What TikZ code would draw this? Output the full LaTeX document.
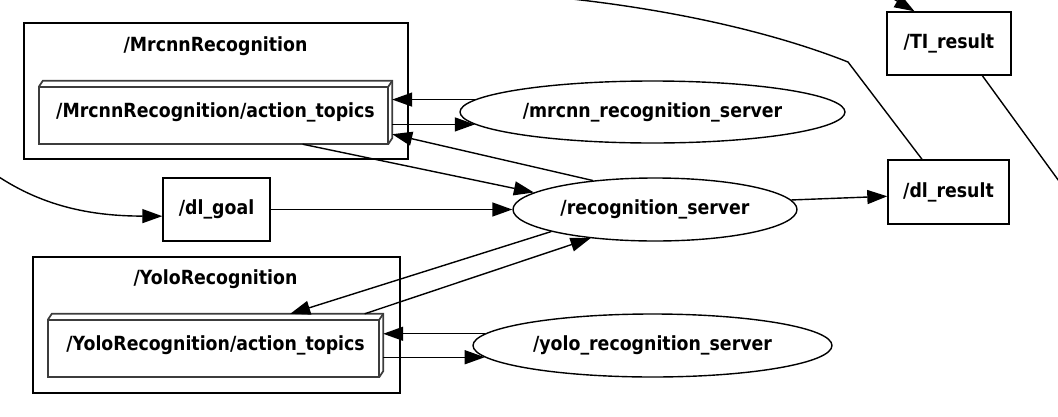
\documentclass[tikz,border=0pt]{standalone}
\usepackage{fontspec}
\usepackage{xcolor}
\usepackage{tikz}
\usetikzlibrary{arrows.meta,positioning,shapes.geometric,calc}
\newfontfamily\rosfont{DejaVu Sans}[FakeStretch=0.89]
\definecolor{topicedge}{RGB}{60,60,60}

\tikzset{
  roslabel/.style={font=\rosfont\bfseries\fontsize{19.5}{22}\selectfont, inner sep=0pt},
  groupbox/.style={draw=black, line width=1.4pt, inner sep=0pt},
  topicbox/.style={roslabel, inner sep=0pt},
  box3d/.style={draw=topicedge, line width=1.7pt, line join=miter},
  topicnode/.style={roslabel, draw=black, line width=1.4pt},
  srvnode/.style={roslabel, ellipse, draw=black, line width=1.4pt},
  edge/.style={-{Triangle[length=20pt,width=14pt]}, line width=1.4pt},
  cutedge/.style={line width=1.4pt}
}

\begin{document}
\begin{tikzpicture}[x=1pt, y=-1pt]
  \useasboundingbox (0,0) rectangle (1058,416);
  \clip (0,0) rectangle (1058,416);

  % namespaces
  \node[groupbox, minimum width=384pt, minimum height=136pt] (mgroup) at (216,91) {};
  \node[roslabel] (mtitle) at (215.5,46) {/MrcnnRecognition};
  \node[groupbox, minimum width=367pt, minimum height=136pt] (ygroup) at (216.5,325) {};
  \node[roslabel] (ytitle) at (215.5,279) {/YoloRecognition};

  % action topics
  \node[topicbox, minimum width=353pt, minimum height=63pt] (mtopic) at (215.5,112.5)
    {/MrcnnRecognition/action\_topics};
  \node[topicbox, minimum width=335pt, minimum height=63pt] (ytopic) at (215.5,345.5)
    {/YoloRecognition/action\_topics};
  \foreach \t in {mtopic,ytopic} {
    \draw[box3d] (\t.south west) rectangle ($(\t.north east)+(-4,6)$);
    \draw[box3d] ($(\t.north west)+(0,6)$) -- ($(\t.north west)+(4,0)$) -- (\t.north east)
      -- ($(\t.south east)+(0,-6)$) -- ($(\t.south east)+(-4,0)$);
    \draw[box3d] (\t.north east) -- ($(\t.north east)+(-4,6)$);
  }

  % servers
  \node[srvnode, minimum width=385pt, minimum height=62pt] (mserver) at (652.5,112) {/mrcnn\_recognition\_server};
  \node[srvnode, minimum width=284pt, minimum height=63pt] (rserver) at (655,209.5) {/recognition\_server};
  \node[srvnode, minimum width=359pt, minimum height=63pt] (yserver) at (652.5,345.5) {/yolo\_recognition\_server};

  % topics
  \node[topicnode, minimum width=107pt, minimum height=63pt] (dlgoal) at (216.5,209.5) {/dl\_goal};
  \node[topicnode, minimum width=121pt, minimum height=64pt] (dlresult) at (948.5,192) {/dl\_result};
  \node[topicnode, minimum width=124pt, minimum height=63pt] (tiresult) at (949,43.5) {/TI\_result};

  % ends outside the view
  \coordinate (offleft) at (-4,175);
  \coordinate (offtop) at (520,-6);
  \coordinate (offti) at (872,-14);
  \coordinate (offright) at (1080,210);

  % connections
  \draw[edge] (mserver.176) -- (mserver.176 -| mtopic.east);
  \draw[edge] (mserver.184 -| mtopic.east) -- (mserver.184);
  \draw[edge] (rserver.155) -- (mtopic.353);
  \draw[edge] (mtopic.340) -- (rserver.172);
  \draw[edge] (dlgoal.east) -- (rserver.west);
  \draw[edge] (rserver.4) -- (dlresult.184);
  \draw[edge] (offleft) .. controls (45,208) and (95,216) .. (dlgoal.187);
  \draw[cutedge] (dlresult.129) -- (848,62) .. controls (780,35) and (670,6) .. (offtop);
  \draw[edge] (offti) -- (tiresult.137);
  \draw[cutedge] (tiresult.316) -- (offright);
  \draw[edge] (rserver.192) -- (ytopic.23);
  \draw[edge] (ytopic.12) -- (rserver.204);
  \draw[edge] (yserver.176) -- (yserver.176 -| ytopic.east);
  \draw[edge] (yserver.184 -| ytopic.east) -- (yserver.184);
\end{tikzpicture}
\end{document}
